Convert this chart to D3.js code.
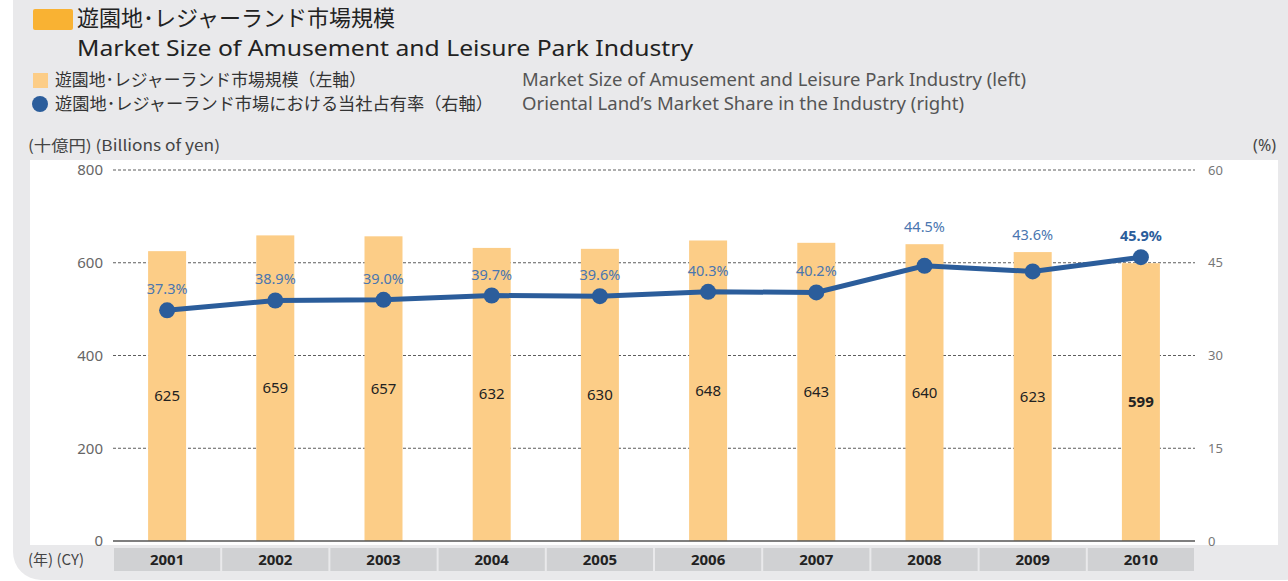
<!DOCTYPE html>
<html lang="ja">
<head>
<meta charset="UTF-8">
<script src="https://d3js.org/d3.v7.min.js"></script>
<style>
  body { margin: 0; background: #fff; font-family: "Noto Sans", "Noto Sans CJK JP", sans-serif; }
  svg { display: block; }
</style>
</head>
<body>
<svg id="chart" width="1288" height="581"></svg>
<script>
  // data
  const years = ["2001", "2002", "2003", "2004", "2005", "2006", "2007", "2008", "2009", "2010"];
  const marketSize = [625, 659, 657, 632, 630, 648, 643, 640, 623, 599];
  const share = [37.3, 38.9, 39.0, 39.7, 39.6, 40.3, 40.2, 44.5, 43.6, 45.9];
  const leftTicks = [0, 200, 400, 600, 800];
  const rightTicks = [0, 15, 30, 45, 60];

  const svg = d3.select("#chart");
  const jp = "'Noto Sans CJK JP', 'Noto Sans', sans-serif";

  // backgrounds
  svg.append("rect").attr("x", 13).attr("y", -30).attr("width", 1300).attr("height", 610)
    .attr("rx", 28).attr("fill", "#e9e9eb");
  svg.append("rect").attr("x", 30).attr("y", 160).attr("width", 1248).attr("height", 385).attr("fill", "#fff");

  // title
  svg.append("rect").attr("x", 33).attr("y", 9).attr("width", 40).attr("height", 21).attr("rx", 2).attr("fill", "#f9b233");
  svg.append("text").attr("x", 77).attr("y", 26).attr("font-size", 22).attr("font-family", jp)
    .attr("fill", "#222").text("遊園地･レジャーランド市場規模");
  svg.append("text").attr("x", 77).attr("y", 56).attr("font-size", 22)
    .attr("textLength", 616).attr("lengthAdjust", "spacingAndGlyphs")
    .attr("fill", "#222").text("Market Size of Amusement and Leisure Park Industry");

  // legend
  svg.append("rect").attr("x", 33).attr("y", 73).attr("width", 15).attr("height", 15).attr("fill", "#fccd87");
  svg.append("circle").attr("cx", 40).attr("cy", 104).attr("r", 8).attr("fill", "#2b5d9b");
  svg.append("text").attr("x", 55).attr("y", 86).attr("font-size", 17).attr("font-family", jp)
    .attr("textLength", 311).attr("lengthAdjust", "spacingAndGlyphs")
    .attr("fill", "#333").text("遊園地･レジャーランド市場規模（左軸）");
  svg.append("text").attr("x", 55).attr("y", 110).attr("font-size", 17).attr("font-family", jp)
    .attr("textLength", 438).attr("lengthAdjust", "spacingAndGlyphs")
    .attr("fill", "#333").text("遊園地･レジャーランド市場における当社占有率（右軸）");
  svg.append("text").attr("x", 522).attr("y", 86).attr("font-size", 18)
    .attr("textLength", 504).attr("lengthAdjust", "spacingAndGlyphs")
    .attr("fill", "#555").text("Market Size of Amusement and Leisure Park Industry (left)");
  svg.append("text").attr("x", 522).attr("y", 110).attr("font-size", 18)
    .attr("textLength", 442).attr("lengthAdjust", "spacingAndGlyphs")
    .attr("fill", "#555").text("Oriental Land\u2019s Market Share in the Industry (right)");

  // axis titles
  svg.append("text").attr("x", 28).attr("y", 151).attr("font-size", 15).attr("font-family", jp)
    .attr("textLength", 192).attr("lengthAdjust", "spacingAndGlyphs")
    .attr("fill", "#444").text("(十億円) (Billions of yen)");
  svg.append("text").attr("x", 1276).attr("y", 151).attr("font-size", 16).attr("text-anchor", "end")
    .attr("fill", "#444").text("(%)");
  svg.append("text").attr("x", 28).attr("y", 565).attr("font-size", 15).attr("font-family", jp)
    .attr("fill", "#444").text("(年) (CY)");

  // scales
  const x = d3.scaleBand().domain(years).range([113, 1195]);
  const yL = d3.scaleLinear().domain([0, 800]).range([541, 170]);
  const yR = d3.scaleLinear().domain([0, 60]).range([541, 170]);

  // grid
  svg.append("g").selectAll("line").data(leftTicks.filter(d => d > 0)).join("line")
    .attr("x1", 113).attr("x2", 1195).attr("y1", d => yL(d)).attr("y2", d => yL(d))
    .attr("stroke", "#333").attr("stroke-width", 0.8).attr("stroke-dasharray", "3,2");

  // left axis
  const gl = svg.append("g").attr("transform", "translate(103,0)")
    .call(d3.axisLeft(yL).tickValues(leftTicks).tickSize(0).tickPadding(0));
  gl.select(".domain").remove();
  gl.selectAll("text").attr("font-size", 15).attr("fill", "#666").attr("font-family", "Noto Sans");

  // right axis
  const gr = svg.append("g").attr("transform", "translate(1208,0)")
    .call(d3.axisRight(yR).tickValues(rightTicks).tickSize(0).tickPadding(0));
  gr.select(".domain").remove();
  gr.selectAll("text").attr("font-size", 13).attr("fill", "#777").attr("font-family", "Noto Sans");

  // bars
  const bw = 38;
  svg.append("g").selectAll("rect").data(years).join("rect")
    .attr("x", d => x(d) + x.bandwidth() / 2 - bw / 2)
    .attr("y", (d, i) => yL(marketSize[i]))
    .attr("width", bw)
    .attr("height", (d, i) => yL(0) - yL(marketSize[i]))
    .attr("fill", "#fccd87");

  svg.append("g").selectAll("text").data(years).join("text")
    .attr("x", d => x(d) + x.bandwidth() / 2)
    .attr("y", (d, i) => (yL(marketSize[i]) + yL(0)) / 2 + 5)
    .attr("text-anchor", "middle").attr("font-size", 15)
    .attr("font-weight", (d, i) => i === years.length - 1 ? "bold" : "normal")
    .attr("fill", "#222")
    .text((d, i) => marketSize[i]);

  // baseline
  svg.append("line").attr("x1", 113).attr("x2", 1195).attr("y1", yL(0)).attr("y2", yL(0))
    .attr("stroke", "#555").attr("stroke-width", 1.5);

  // year cells
  const yc = svg.append("g");
  yc.selectAll("rect").data(years).join("rect")
    .attr("x", d => x(d) + 1).attr("y", 548)
    .attr("width", x.bandwidth() - 2).attr("height", 23)
    .attr("fill", "#d0d1d3");
  yc.selectAll("text").data(years).join("text")
    .attr("x", d => x(d) + x.bandwidth() / 2).attr("y", 565)
    .attr("text-anchor", "middle").attr("font-size", 15).attr("font-weight", "bold")
    .attr("fill", "#222").text(d => d);

  // share line
  const cx = d => x(d) + x.bandwidth() / 2;
  const line = d3.line().x((d, i) => cx(years[i])).y(d => yR(d));
  svg.append("path").datum(share).attr("d", line)
    .attr("fill", "none").attr("stroke", "#2b5d9b").attr("stroke-width", 5);
  svg.append("g").selectAll("circle").data(share).join("circle")
    .attr("cx", (d, i) => cx(years[i])).attr("cy", d => yR(d)).attr("r", 8)
    .attr("fill", "#2b5d9b");

  // share labels: above the point, or above the bar when the bar top is in the way
  const labelY = (d, i) => {
    const ly = yR(d) - 16;
    const top = yL(marketSize[i]);
    return (ly > top - 5 && ly < top + 20) ? top - 12 : ly;
  };
  svg.append("g").selectAll("text").data(share).join("text")
    .attr("x", (d, i) => cx(years[i]))
    .attr("y", labelY)
    .attr("text-anchor", "middle").attr("font-size", 14.5)
    .attr("font-weight", (d, i) => i === share.length - 1 ? "bold" : "normal")
    .attr("fill", (d, i) => i === share.length - 1 ? "#2b5d9b" : "#4a76b0")
    .text(d => d.toFixed(1) + "%");
</script>
</body>
</html>
